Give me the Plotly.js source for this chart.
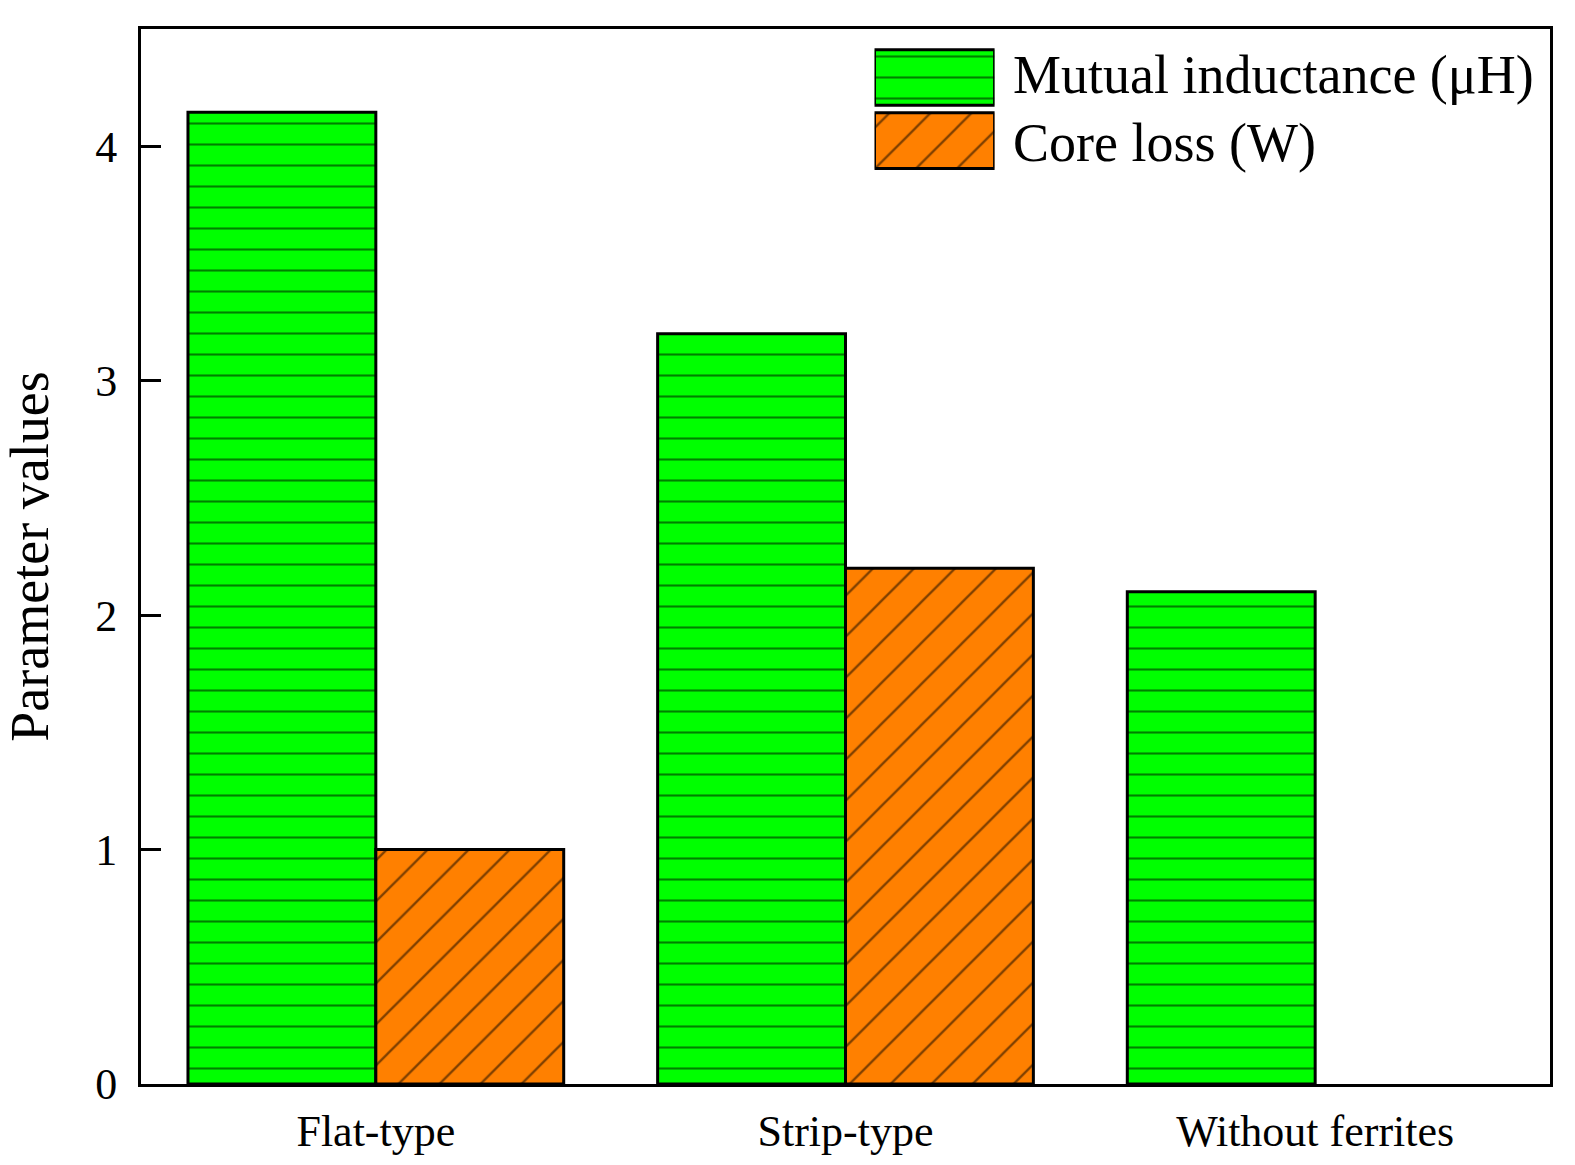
<!DOCTYPE html>
<html>
<head>
<meta charset="utf-8">
<script src="https://cdn.plot.ly/plotly-3.0.1.min.js"></script>
<style>html,body{margin:0;padding:0;background:#fff;}#chart{width:1575px;height:1165px;}</style>
</head>
<body>
<div id="chart"></div>
<script>
const categories = ["Flat-type", "Strip-type", "Without ferrites"];
const mutualInductance = [4.145, 3.20, 2.10];
const coreLoss = [1.0, 2.20, 0];
const seriesNames = ["Mutual inductance (\u03bcH)", "Core loss (W)"];
const yTicks = [0, 1, 2, 3, 4];

const font = "Liberation Serif, Times New Roman, serif";
const green = "#00ff00", orange = "#ff8000";
const hPattern = {shape: "-", fgcolor: "#000", bgcolor: green, size: 21, solidity: 0.1, fillmode: "overlay"};
const dPattern = {shape: "/", fgcolor: "#000", bgcolor: orange, size: 29, solidity: 0.08, fillmode: "overlay"};

const traces = [
  {type: "bar", x: categories, y: mutualInductance, name: seriesNames[0],
   marker: {color: green, line: {color: "#000", width: 3}, pattern: hPattern}, showlegend: false},
  {type: "bar", x: categories, y: coreLoss, name: seriesNames[1],
   marker: {color: orange, line: {color: "#000", width: coreLoss.map(v => v > 0 ? 3 : 0)}, pattern: dPattern}, showlegend: false},
  // legend swatches drawn on an overlay axis
  {type: "bar", orientation: "h", x: [1], y: [1], xaxis: "x2", yaxis: "y2", width: 0.88,
   marker: {color: green, line: {color: "#000", width: 3}, pattern: hPattern}, showlegend: false, hoverinfo: "skip"},
  {type: "bar", orientation: "h", x: [1], y: [0], xaxis: "x2", yaxis: "y2", width: 0.88,
   marker: {color: orange, line: {color: "#000", width: 3}, pattern: dPattern}, showlegend: false, hoverinfo: "skip"}
];

const layout = {
  width: 1575, height: 1165,
  margin: {l: 141, r: 25, t: 29, b: 81},
  paper_bgcolor: "#fff", plot_bgcolor: "#fff",
  font: {family: font, color: "#000"},
  barmode: "group", bargap: 0.2, bargroupgap: 0,
  showlegend: false,
  xaxis: {
    range: [-0.5, 2.5], showline: true, mirror: true, linecolor: "#000", linewidth: 3,
    ticks: "", showgrid: false, zeroline: false,
    tickfont: {family: font, size: 44, color: "#000"}, ticklabelstandoff: 6
  },
  yaxis: {
    range: [0, 4.5], showline: true, mirror: true, linecolor: "#000", linewidth: 3,
    tickvals: yTicks, ticktext: yTicks.map(String), ticks: "inside", ticklen: 20, tickwidth: 3, tickcolor: "#000",
    showgrid: false, zeroline: false,
    tickfont: {family: font, size: 44, color: "#000"}, ticklabelstandoff: 12,
    title: {text: "Parameter values", font: {family: font, size: 54, color: "#000"}, standoff: 30}
  },
  xaxis2: {domain: [0.5206, 0.6058], range: [0, 1], anchor: "y2", visible: false, fixedrange: true},
  yaxis2: {domain: [0.8643, 0.9839], range: [-0.5, 1.5], anchor: "x2", visible: false, fixedrange: true},
  annotations: [
    {xref: "paper", yref: "paper", x: 0.6172, y: 0.9560, xanchor: "left", yanchor: "middle",
     text: seriesNames[0], showarrow: false, font: {family: font, size: 54, color: "#000"}},
    {xref: "paper", yref: "paper", x: 0.6172, y: 0.8915, xanchor: "left", yanchor: "middle",
     text: seriesNames[1], showarrow: false, font: {family: font, size: 54, color: "#000"}}
  ]
};

Plotly.newPlot("chart", traces, layout, {displayModeBar: false, staticPlot: true});
</script>
</body>
</html>
